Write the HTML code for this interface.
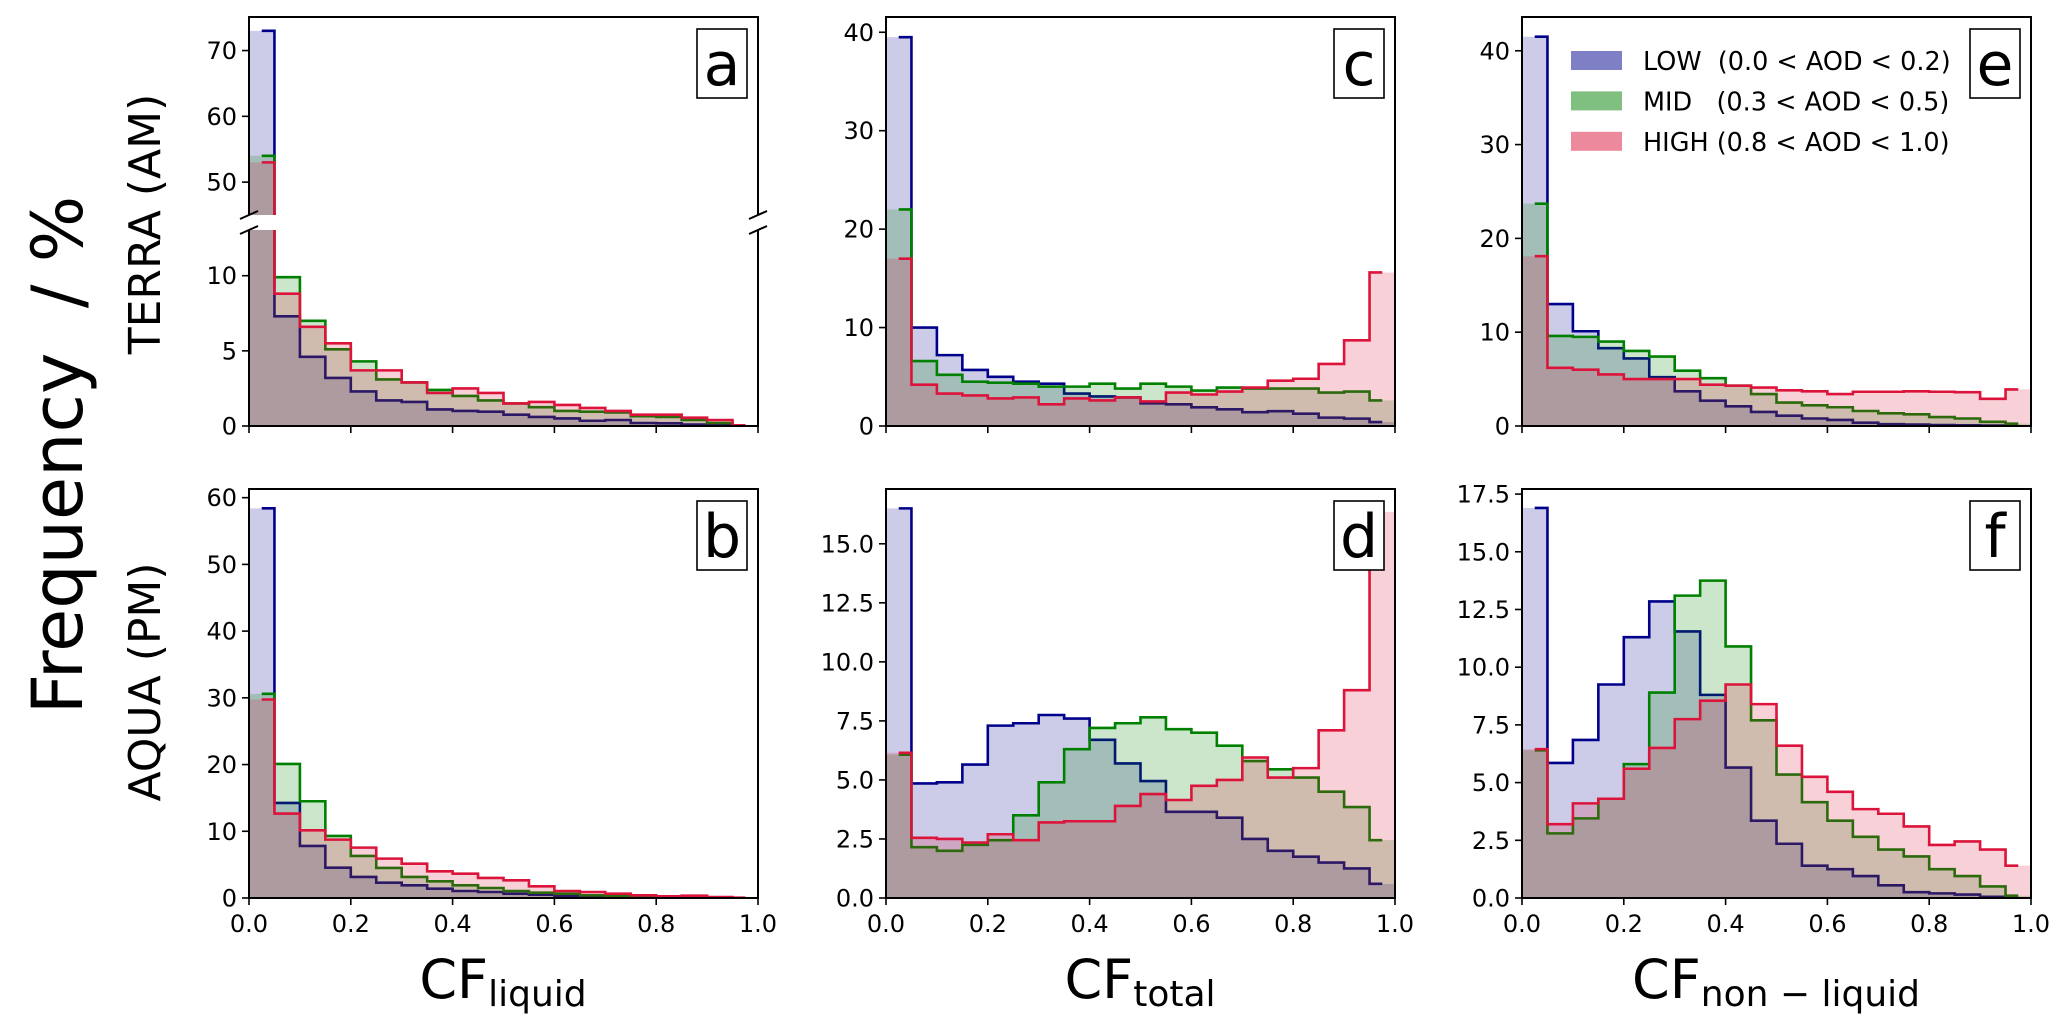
<!DOCTYPE html>
<html><head><meta charset="utf-8">
<style>
html,body{margin:0;padding:0;background:#fff;}
svg{display:block;font-family:"DejaVu Sans","Liberation Sans",sans-serif;}
</style></head>
<body>
<svg id="fig" width="2067" height="1033" viewBox="0 0 2067 1033" xmlns="http://www.w3.org/2000/svg">
<rect width="2067" height="1033" fill="#fff"/>
<text transform="translate(82,455) rotate(-90)" text-anchor="middle" font-size="70" fill="#000" xml:space="preserve">Frequency  / %</text>
<text transform="translate(160,224) rotate(-90)" text-anchor="middle" font-size="44" fill="#000">TERRA (AM)</text>
<text transform="translate(160,682) rotate(-90)" text-anchor="middle" font-size="44" fill="#000">AQUA (PM)</text>
<text x="503" y="998" text-anchor="middle" font-size="54" fill="#000">CF<tspan font-size="36" dy="8">liquid</tspan></text>
<text x="1140" y="998" text-anchor="middle" font-size="54" fill="#000">CF<tspan font-size="36" dy="8">total</tspan></text>
<text x="1776" y="998" text-anchor="middle" font-size="54" fill="#000">CF<tspan font-size="36" dy="8">non − liquid</tspan></text>
<g id="plots"></g>
</svg>
<script>
// bin centres of the 20 histogram bins (CF fraction)
const binCenters = [0.025,0.075,0.125,0.175,0.225,0.275,0.325,0.375,0.425,0.475,0.525,0.575,0.625,0.675,0.725,0.775,0.825,0.875,0.925,0.975];
const seriesNames = ["LOW  (0.0 < AOD < 0.2)","MID   (0.3 < AOD < 0.5)","HIGH (0.8 < AOD < 1.0)"];
const xTickLabels = ["0.0","0.2","0.4","0.6","0.8","1.0"];
const xTickValues = [0,0.2,0.4,0.6,0.8,1.0];

// panel a (TERRA, CF liquid)
const lowA  = [73,7.3,4.6,3.2,2.3,1.7,1.6,1.1,1.0,0.95,0.75,0.6,0.5,0.35,0.4,0.2,0.18,0.1,0.05,0.02];
const midA  = [54,9.9,7.0,5.1,4.3,3.1,2.9,2.4,2.0,1.7,1.5,1.25,1.0,0.95,0.9,0.65,0.6,0.4,0.2,0.05];
const highA = [53,8.8,6.6,5.5,3.7,3.7,2.9,2.2,2.5,2.2,1.5,1.6,1.4,1.2,1.0,0.75,0.75,0.55,0.4,0.05];
// panel c (TERRA, CF total)
const lowC  = [39.5,10.0,7.2,5.7,5.0,4.5,4.3,3.3,3.0,2.9,2.3,2.2,1.9,1.7,1.4,1.5,1.25,0.85,0.75,0.4];
const midC  = [22,6.6,5.2,4.5,4.4,4.3,4.0,4.0,4.3,3.8,4.3,4.0,3.6,3.9,3.8,3.8,3.8,3.4,3.5,2.6];
const highC = [17,4.2,3.3,3.1,2.8,2.9,2.2,2.8,2.6,2.9,2.5,3.4,3.2,3.5,3.9,4.6,4.8,6.3,8.7,15.6];
// panel e (TERRA, CF non-liquid)
const lowE  = [41.5,13.0,10.1,8.3,7.2,5.2,3.7,2.7,2.1,1.5,1.1,0.8,0.65,0.35,0.2,0.15,0.1,0.08,0.05,0.02];
const midE  = [23.7,9.6,9.5,9.0,8.0,7.4,5.9,5.1,4.3,3.4,2.5,2.2,2.0,1.6,1.35,1.25,0.95,0.8,0.45,0.25];
const highE = [18.1,6.2,6.0,5.5,5.0,5.0,5.0,4.4,4.3,4.1,3.8,3.7,3.4,3.65,3.65,3.7,3.65,3.6,2.9,3.9];
// panel b (AQUA, CF liquid)
const lowB  = [58.4,14.25,7.8,4.55,3.15,2.3,1.9,1.4,1.05,0.9,0.65,0.5,0.3,0.1,0.05,0.02,0.01,0,0,0];
const midB  = [30.6,20.1,14.5,9.3,6.3,4.5,3.15,2.5,1.9,1.5,1.05,0.8,0.65,0.4,0.3,0.15,0.08,0.05,0.02,0];
const highB = [29.75,12.65,10.15,8.75,7.55,5.9,5.15,4.0,3.65,3.0,2.65,1.75,1.05,0.9,0.65,0.4,0.25,0.35,0.15,0.05];
// panel d (AQUA, CF total)
const lowD  = [16.5,4.85,4.9,5.65,7.3,7.4,7.75,7.6,6.7,5.7,4.95,3.65,3.65,3.4,2.5,2.0,1.75,1.5,1.25,0.6];
const midD  = [6.07,2.15,2.0,2.25,2.45,3.5,4.9,6.3,7.2,7.4,7.65,7.15,7.0,6.45,5.8,5.45,5.1,4.5,3.85,2.45];
const highD = [6.15,2.55,2.5,2.35,2.7,2.45,3.2,3.25,3.25,3.9,4.4,4.15,4.75,5.0,5.95,5.1,5.5,7.1,8.8,16.35];
// panel f (AQUA, CF non-liquid)
const lowF  = [16.9,5.85,6.85,9.25,11.3,12.85,11.55,8.8,5.65,3.35,2.35,1.4,1.25,0.95,0.55,0.25,0.2,0.15,0.05,0.02];
const midF  = [6.4,2.8,3.45,4.3,5.8,8.9,13.1,13.75,10.9,7.7,5.35,4.15,3.35,2.65,2.1,1.8,1.25,0.95,0.5,0.1];
const highF = [6.45,3.2,4.1,4.3,5.6,6.5,7.75,8.55,9.25,8.4,6.6,5.25,4.6,3.85,3.65,3.1,2.3,2.45,2.1,1.4];

// y tick labels
const yTicksA_upper = ["50","60","70"];
const yTicksA_lower = ["0","5","10"];
const yTicksC = ["0","10","20","30","40"];
const yTicksE = ["0","10","20","30","40"];
const yTicksB = ["0","10","20","30","40","50","60"];
const yTicksD = ["0.0","2.5","5.0","7.5","10.0","12.5","15.0"];
const yTicksF = ["0.0","2.5","5.0","7.5","10.0","12.5","15.0","17.5"];

const COLORS = ["#00008b","#008000","#dc143c"];
const NS = "http://www.w3.org/2000/svg";
const root = document.getElementById("plots");
function mk(tag, attrs, parent){
  const e = document.createElementNS(NS, tag);
  for (const k in attrs) e.setAttribute(k, attrs[k]);
  (parent||root).appendChild(e);
  return e;
}
let clipN = 0;

function drawAxes(o){
  // o: L,T,W,H,ymin,ymax,series,ticks,name,showXLabels,spines
  const g = mk("g", {});
  
  
  const xs = v => o.L + v*o.W;
  const ys = v => o.T + o.H - (v - o.ymin)/(o.ymax - o.ymin)*o.H;
  const cid = "clip" + (clipN++);
  const cp = mk("clipPath", {id: cid}, g);
  mk("rect", {x:o.L, y:o.T, width:o.W, height:o.H}, cp);
  const plot = mk("g", {"clip-path": "url(#"+cid+")"}, g);
  const bw = o.W / binCenters.length;
  const names = ["low","mid","high"];
  o.series.forEach((vals, si) => {
    // fill
    let d = "M" + xs(binCenters[0]-0.025) + "," + ys(0);
    vals.forEach((v,i) => {
      const x0 = xs(binCenters[i]) - bw/2, x1 = xs(binCenters[i]) + bw/2;
      d += " L" + x0 + "," + ys(v) + " L" + x1 + "," + ys(v);
    });
    d += " L" + (xs(binCenters[vals.length-1]) + bw/2) + "," + ys(0) + " Z";
    const f = mk("path", {d: d, fill: COLORS[si], "fill-opacity": 0.2, stroke: "none"}, plot);
    
    
    // step outline (mid)
    let s = "M" + xs(binCenters[0]) + "," + ys(vals[0]);
    for (let i=1;i<vals.length;i++){
      const xe = (xs(binCenters[i-1]) + xs(binCenters[i]))/2;
      s += " H" + xe + " V" + ys(vals[i]);
    }
    s += " H" + xs(binCenters[vals.length-1]);
    const l = mk("path", {d: s, fill: "none", stroke: COLORS[si], "stroke-width": 2.6}, plot);
    
    
  });
  // spines
  const sp = o.spines || {top:true,bottom:true};
  mk("line", {x1:o.L, y1:o.T, x2:o.L, y2:o.T+o.H, stroke:"#000", "stroke-width":2}, g);
  mk("line", {x1:o.L+o.W, y1:o.T, x2:o.L+o.W, y2:o.T+o.H, stroke:"#000", "stroke-width":2}, g);
  if (sp.top) mk("line", {x1:o.L-1, y1:o.T, x2:o.L+o.W+1, y2:o.T, stroke:"#000", "stroke-width":2}, g);
  if (sp.bottom) mk("line", {x1:o.L-1, y1:o.T+o.H, x2:o.L+o.W+1, y2:o.T+o.H, stroke:"#000", "stroke-width":2}, g);
  // y ticks
  o.ticks.forEach(t => {
    const v = parseFloat(t), y = ys(v);
    mk("line", {x1:o.L-7, y1:y, x2:o.L, y2:y, stroke:"#000", "stroke-width":1.6}, g);
    const tx = mk("text", {x:o.L-12, y:y+8.5, "text-anchor":"end", "font-size":24, fill:"#000"}, g);
    tx.textContent = t;
    
    
  });
  // x ticks
  if (sp.bottom){
    xTickValues.forEach((v,i) => {
      const x = xs(v);
      mk("line", {x1:x, y1:o.T+o.H, x2:x, y2:o.T+o.H+7, stroke:"#000", "stroke-width":1.6}, g);
      if (o.showXLabels){
        const tx = mk("text", {x:x, y:o.T+o.H+34, "text-anchor":"middle", "font-size":24, fill:"#000"}, g);
        tx.textContent = xTickLabels[i];
        
        
      }
    });
  }
  return g;
}

function panelLabel(L, T, W, letter){
  const g = mk("g", {});
  
  
  mk("rect", {x:L+W-61, y:T+12, width:50, height:69, fill:"#fff", stroke:"#000", "stroke-width":1.6}, g);
  const t = mk("text", {x:L+W-36, y:T+68, "text-anchor":"middle", "font-size":60, fill:"#000"}, g);
  t.textContent = letter;
}

const W = 509;
const colL = [249, 886, 1522];
// panel a: broken axis
drawAxes({L:colL[0], T:17, W:W, H:198, ymin:45, ymax:75.1, series:[lowA,midA,highA], ticks:yTicksA_upper, name:"panel-a-upper", spines:{top:true,bottom:false}});
drawAxes({L:colL[0], T:230, W:W, H:196, ymin:0, ymax:13.04, series:[lowA,midA,highA], ticks:yTicksA_lower, name:"panel-a-lower", spines:{top:false,bottom:true}});
[[colL[0],215],[colL[0],230],[colL[0]+W,215],[colL[0]+W,230]].forEach(p => {
  const b = mk("line", {x1:p[0]-9, y1:p[1]+4, x2:p[0]+9, y2:p[1]-4, stroke:"#000", "stroke-width":2});
  
  
});
panelLabel(colL[0],17,W,"a");
drawAxes({L:colL[1], T:17, W:W, H:409, ymin:0, ymax:41.55, series:[lowC,midC,highC], ticks:yTicksC, name:"panel-c"});
panelLabel(colL[1],17,W,"c");
drawAxes({L:colL[2], T:17, W:W, H:409, ymin:0, ymax:43.6, series:[lowE,midE,highE], ticks:yTicksE, name:"panel-e"});
panelLabel(colL[2],17,W,"e");
drawAxes({L:colL[0], T:489, W:W, H:409, ymin:0, ymax:61.3, series:[lowB,midB,highB], ticks:yTicksB, name:"panel-b", showXLabels:true});
panelLabel(colL[0],489,W,"b");
drawAxes({L:colL[1], T:489, W:W, H:409, ymin:0, ymax:17.32, series:[lowD,midD,highD], ticks:yTicksD, name:"panel-d", showXLabels:true});
panelLabel(colL[1],489,W,"d");
drawAxes({L:colL[2], T:489, W:W, H:409, ymin:0, ymax:17.72, series:[lowF,midF,highF], ticks:yTicksF, name:"panel-f", showXLabels:true});
panelLabel(colL[2],489,W,"f");

// legend in panel e
const lg = mk("g", {});


seriesNames.forEach((n,i) => {
  const y = 51 + i*40.4;
  const sw = mk("rect", {x:1571, y:y, width:51, height:19, fill:COLORS[i], "fill-opacity":0.5}, lg);
  
  
  const t = mk("text", {x:1643, y:y+19, "font-size":25.5, fill:"#000"}, lg);
  t.setAttribute("xml:space","preserve");
  t.style.whiteSpace = "pre";
  t.textContent = n;
  
  
});
</script>
</body></html>
